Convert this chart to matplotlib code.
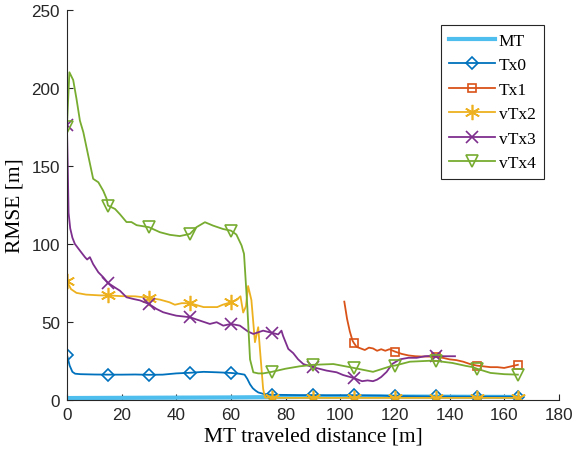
import numpy as np
from matplotlib import pyplot as plt

# data
mt_x = [0, 15, 30, 45, 60, 75, 90, 105, 120, 135, 150, 165]
mt_y = [1.2, 1.3, 1.4, 1.5, 1.6, 1.8, 2.0, 2.1, 2.2, 2.1, 2.0, 1.9]

tx0_x = [0, 1, 2, 3, 5, 10, 15, 20, 25, 30, 35, 40, 45, 50, 55, 60, 63, 65, 66, 67, 68, 69,
         70, 72, 75, 80, 85, 90, 95, 100, 105, 110, 115, 120, 135, 150, 165]
tx0_y = [29, 22, 18, 16.8, 16.5, 16.3, 16.2, 16.2, 16.3, 16.1, 16.2, 17, 17.4, 18, 17.7, 17.3,
         16.8, 16.2, 13.5, 10, 7.5, 6, 4.8, 3.8, 3.3, 3.2, 3.1, 3.1, 3, 3, 3, 2.9, 2.8, 2.5,
         2.2, 2.1, 2.1]

tx1_x = [101.5, 102.5, 103.5, 104.5, 105, 106, 107.5, 109, 110.5, 112, 113.5, 115, 116.5, 118,
         120, 122.5, 125, 127.5, 130, 132.5, 135, 137.5, 140, 142.5, 145, 147.5, 150, 152.5,
         155, 157.5, 160, 162.5, 165]
tx1_y = [63, 52, 44, 38, 36.5, 34, 33, 32, 33.5, 33, 31.5, 32.5, 31.5, 32.5, 31, 29.5, 28.5,
         28, 27.8, 27.8, 27.5, 27, 26, 25.5, 24.5, 23, 22, 21.5, 21, 21, 20.5, 21.5, 22.5]

vtx2_x = [0, 1.5, 3.5, 7, 12, 15, 20, 25, 30, 34, 37.5, 39.5, 42, 45, 50, 55, 57, 60, 62, 63.5,
          64.5, 65.5, 66.3, 67.5, 68.8, 70, 70.6, 71.8, 72.5, 75, 90, 105, 120, 135, 150, 165]
vtx2_y = [76, 71, 68.6, 67.5, 67, 67, 66.5, 66.4, 65.4, 64.3, 62.6, 61, 62, 62, 59.5, 59.5, 61,
          62.6, 64, 66.4, 56, 60, 73, 64, 37, 46.6, 33, 7, 1.5, 1.3, 1.3, 1.3, 1.3, 1.3, 1.3, 1.3]

vtx3_x = [0, 0.3, 0.6, 1.2, 2, 2.9, 4.75, 6.6, 7.4, 8.4, 9.6, 11.5, 13.3, 15, 17.6, 19.4, 21.8,
          24.3, 26.7, 30, 32.8, 35.2, 37.7, 40, 45, 48.7, 52.3, 54.8, 57.2, 60, 63.3, 66.3,
          68.2, 71.8, 75, 77.3, 78.5, 79.1, 81, 82.8, 84.6, 86.5, 90, 95, 98.7, 101, 105, 108,
          110, 112, 113.5, 115, 117, 119, 121.8, 125, 128, 131, 135, 138, 142]
vtx3_y = [176, 150, 120, 110, 104, 100, 95.7, 91.5, 90, 91.5, 87, 81.8, 78.6, 75, 72, 70, 65.8,
          64.7, 63.8, 61.5, 58.3, 56.2, 55, 54, 53, 50.8, 48.7, 49.8, 47.6, 48.7, 47.6, 43.8,
          42.3, 44.4, 43, 42, 44.4, 41, 32.7, 30, 26, 23, 21, 18.8, 17.7, 16, 14, 12, 12.5, 12,
          13, 14.7, 18, 23, 26, 27, 27, 28, 28.4, 28, 28]

vtx4_x = [0, 0.9, 2.3, 3.5, 4.75, 6, 7.8, 9.6, 11.5, 13.3, 14.5, 15, 17.6, 19.4, 21.8, 23.6,
          25.5, 30, 34, 37.7, 41.3, 45, 47.4, 50.5, 53.5, 57.2, 60, 62, 63.9, 64.8, 66, 67, 68.2,
          70, 71.8, 75, 80, 85, 90, 97.5, 105, 112, 118.8, 120, 125.5, 134, 135, 141, 146,
          148.6, 150, 155, 160, 165]
vtx4_y = [175, 210, 205, 193, 179, 171.6, 156.6, 141.7, 139.5, 134, 129, 124.6, 122.4, 119, 114,
          114, 112, 110.7, 107.5, 105.8, 105, 106.4, 110.7, 113.9, 111.7, 109.5, 108.5, 106, 99,
          93.6, 60, 26, 17.7, 17, 17, 18, 20, 21.5, 22.5, 23, 20.5, 18, 21.8, 22, 24.5, 25.2, 25,
          23.7, 21.8, 21, 20, 17.3, 16.5, 16.2]

series = [
    ("Tx0", tx0_x, tx0_y, "#0072BD", "D", 6),
    ("Tx1", tx1_x, tx1_y, "#D95319", "s", 6),
    ("vTx2", vtx2_x, vtx2_y, "#EDB120", "*", 11),
    ("vTx3", vtx3_x, vtx3_y, "#7E2F8E", "x", 8),
    ("vTx4", vtx4_x, vtx4_y, "#77AC30", "v", 8),
]

serif = ["Liberation Serif", "DejaVu Serif"]
sans = ["Liberation Sans", "DejaVu Sans"]

fig = plt.figure(figsize=(5.72, 4.52), dpi=100)
ax = fig.add_axes([0.117, 0.113, 0.86, 0.863])

ax.plot(mt_x, mt_y, color="#4DBEEE", lw=3, label="MT")
for name, xs, ys, col, mk, ms in series:
    marks = [i for i, v in enumerate(xs) if v % 15 == 0]
    if mk == "*":
        ax.plot(xs, ys, color=col, lw=1.3, marker=(6, 2, 0), ms=ms, mew=1.2,
                markevery=marks, label=name)
    else:
        ax.plot(xs, ys, color=col, lw=1.3, marker=mk, ms=ms, mew=1.2, mfc="none",
                markevery=marks, label=name)

ax.set_xlim(0, 180)
ax.set_ylim(0, 250)
ax.set_xticks(np.arange(0, 181, 20))
ax.set_yticks(np.arange(0, 251, 50))
for s in ["top", "right"]:
    ax.spines[s].set_visible(False)
for s in ["left", "bottom"]:
    ax.spines[s].set_color("#262626")
ax.tick_params(direction="in", length=4, colors="#262626", labelsize=12.3, pad=5)
for lab in ax.get_xticklabels() + ax.get_yticklabels():
    lab.set_family(sans)

ax.set_xlabel("MT traveled distance [m]", family=serif, fontsize=15.5, labelpad=3)
ax.set_ylabel("RMSE [m]", family=serif, fontsize=15.5, labelpad=5)

leg = ax.legend(loc="upper right", bbox_to_anchor=(0.969, 0.962), borderaxespad=0,
                prop={"family": serif, "size": 12.5}, handlelength=2.7, fancybox=False,
                framealpha=1, edgecolor="#262626", borderpad=0.45, labelspacing=0.48,
                handletextpad=0.2)
leg.get_frame().set_linewidth(0.8)

fig.savefig("out.png", dpi=100)
